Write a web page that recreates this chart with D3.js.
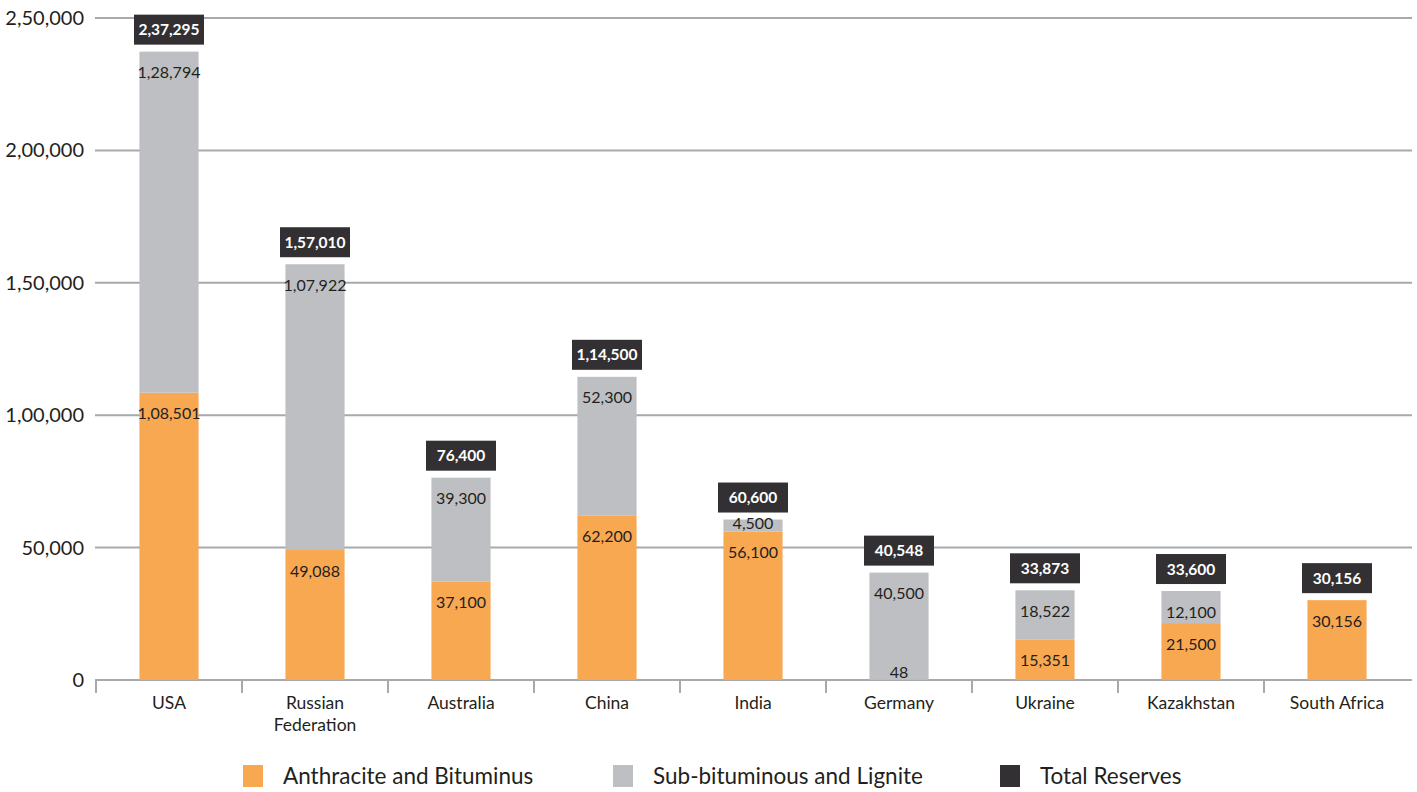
<!DOCTYPE html>
<html><head><meta charset="utf-8">
<script src="https://cdn.jsdelivr.net/npm/d3@7"></script>
<style>html,body{margin:0;padding:0;background:#fff;}svg{display:block;}</style>
</head><body>
<svg id="c" width="1417" height="792"></svg>
<script>
const categories = ["USA","Russian Federation","Australia","China","India","Germany","Ukraine","Kazakhstan","South Africa"];
const anthracite = [108501,49088,37100,62200,56100,48,15351,21500,30156];
const subbituminous = [128794,107922,39300,52300,4500,40500,18522,12100,0];
const totals = [237295,157010,76400,114500,60600,40548,33873,33600,30156];
const yTicks = [0,50000,100000,150000,200000,250000];
const seriesNames = ["Anthracite and Bituminus","Sub-bituminous and Lignite","Total Reserves"];
const colors = ["#F9A852","#BEBFC2","#333033"];

function fmtIN(n){
  const s = String(Math.round(n));
  if (s.length <= 3) return s;
  const last3 = s.slice(-3);
  let rest = s.slice(0,-3);
  const parts = [];
  while (rest.length > 2){ parts.unshift(rest.slice(-2)); rest = rest.slice(0,-2); }
  if (rest.length) parts.unshift(rest);
  return parts.join(",") + "," + last3;
}

const font = "Lato, 'Open Sans', sans-serif";
const svg = d3.select("#c");
const y = d3.scaleLinear().domain([0,250000]).range([680,18]);
const x = d3.scaleBand().domain(categories).range([96,1410]).padding(0);
const bw = x.bandwidth()*0.405;

// gridlines
svg.append("g").selectAll("line").data(yTicks.filter(d=>d>0)).join("line")
  .attr("x1",95).attr("x2",1412).attr("y1",d=>y(d)).attr("y2",d=>y(d))
  .attr("stroke","#A7A9AC").attr("stroke-width",2);

// y labels
svg.append("g").selectAll("text").data(yTicks).join("text")
  .attr("x",84).attr("y",d=>y(d)).attr("dy","0.35em").attr("text-anchor","end")
  .attr("font-family",font).attr("font-size",20).attr("fill","#231F20")
  .text(d=>fmtIN(d));

// x axis
svg.append("line").attr("x1",95).attr("x2",1412).attr("y1",680).attr("y2",680)
  .attr("stroke","#A7A9AC").attr("stroke-width",2);
const bounds = categories.map(c=>x(c));
svg.append("g").selectAll("line").data(bounds).join("line")
  .attr("x1",d=>d).attr("x2",d=>d).attr("y1",680).attr("y2",693)
  .attr("stroke","#A7A9AC").attr("stroke-width",2);

// category labels
const cl = svg.append("g").selectAll("text").data(categories).join("text")
  .attr("x",d=>x(d)+x.bandwidth()/2).attr("y",709).attr("text-anchor","middle")
  .attr("font-family",font).attr("font-size",17.5).attr("fill","#231F20");
cl.each(function(d){
  const t = d3.select(this);
  const words = d === "Russian Federation" ? ["Russian","Federation"] : [d];
  words.forEach((w,i)=>t.append("tspan").attr("x",x(d)+x.bandwidth()/2).attr("dy",i?22:0).text(w));
});

// bars
const data = categories.map((c,i)=>({c, a:anthracite[i], s:subbituminous[i], t:totals[i]}));
const g = svg.append("g");
data.forEach(d=>{
  const cx = x(d.c)+x.bandwidth()/2;
  const x0 = cx - bw/2;
  g.append("rect").attr("x",x0).attr("width",bw).attr("y",y(d.a)).attr("height",y(0)-y(d.a)).attr("fill",colors[0]);
  if (d.s>0) g.append("rect").attr("x",x0).attr("width",bw).attr("y",y(d.a+d.s)).attr("height",y(d.a)-y(d.a+d.s)).attr("fill",colors[1]);
  const segs = [[0,d.a],[d.a,d.a+d.s]];
  [d.a,d.s].forEach((v,k)=>{
    if (v<=0) return;
    const top = y(segs[k][1]), bot = y(segs[k][0]);
    const cy = Math.min(top+21, bot-8);
    g.append("text").attr("x",cx).attr("y",cy).attr("dy","0.35em").attr("text-anchor","middle")
      .attr("font-family",font).attr("font-size",16).attr("fill","#231F20").text(fmtIN(v));
  });
  const ty = y(d.a+d.s) - 22;
  g.append("rect").attr("x",cx-35).attr("y",ty-15).attr("width",70).attr("height",30).attr("fill",colors[2]);
  g.append("text").attr("x",cx).attr("y",ty).attr("dy","0.36em").attr("text-anchor","middle")
    .attr("font-family",font).attr("font-size",15.5).attr("font-weight","bold").attr("fill","#fff").text(fmtIN(d.t));
});

// legend
const legX = [243,613,1000];
const lg = svg.append("g");
seriesNames.forEach((n,i)=>{
  lg.append("rect").attr("x",legX[i]).attr("y",765).attr("width",20).attr("height",22).attr("fill",colors[i]);
  lg.append("text").attr("x",legX[i]+40).attr("y",776).attr("dy","0.35em")
    .attr("font-family",font).attr("font-size",22.5).attr("fill","#231F20").text(n);
});
</script>
</body></html>
